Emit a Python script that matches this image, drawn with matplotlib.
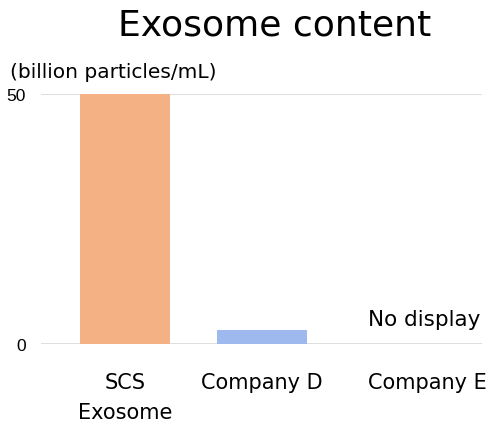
import matplotlib
matplotlib.use("Agg")
import matplotlib.pyplot as plt
import matplotlib.transforms as mtransforms

categories = ["SCS\nExosome", "Company D", "Company E"]
values = [50, 2.8, 0]
colors = ["#F4B183", "#9DB9EE", "#9DB9EE"]
yticks = [0, 50]
title = "Exosome content"
unit_label = "(billion particles/mL)"
note = "No display"

plt.rcParams['font.family'] = ['DejaVu Sans']

fig = plt.figure(figsize=(4.99, 4.27), dpi=100)
ax = fig.add_axes([41/499, 1-345/427, 441/499, 250/427])

x = list(range(len(categories)))
ax.bar(x[:2], values[:2], width=0.66, color=colors[:2], zorder=3)

ax.set_xlim(-0.615, 2.605)
ax.set_ylim(0, 50)
ax.set_yticks(yticks)
ax.set_yticklabels([str(v) for v in yticks], fontsize=12.5,
                   family=['Liberation Sans Narrow', 'Liberation Sans', 'DejaVu Sans'])
ax.set_xticks(x)
ax.set_xticklabels(categories, fontsize=15, linespacing=1.65)
for lab in ax.get_xticklabels():
    lab.set_verticalalignment('top')
ax.tick_params(axis='x', length=0, pad=20)
ax.tick_params(axis='y', length=0, pad=11)
# shift third label to the right as in reference
lab3 = ax.get_xticklabels()[2]
lab3.set_transform(lab3.get_transform() + mtransforms.ScaledTranslation(0.28, 0, fig.dpi_scale_trans))

for y in yticks:
    ax.axhline(y, color="#D9D9D9", lw=1.2, zorder=1)
for s in ax.spines.values():
    s.set_visible(False)

ax.text(2.18, 2.9, note, ha='center', va='bottom', fontsize=15.5)

fig.text(275/499, 1-25/427, title, ha='center', va='center', fontsize=26)
fig.text(10/499, 1-72/427, unit_label, ha='left', va='center', fontsize=14.5)

fig.savefig("out.png", dpi=100)
